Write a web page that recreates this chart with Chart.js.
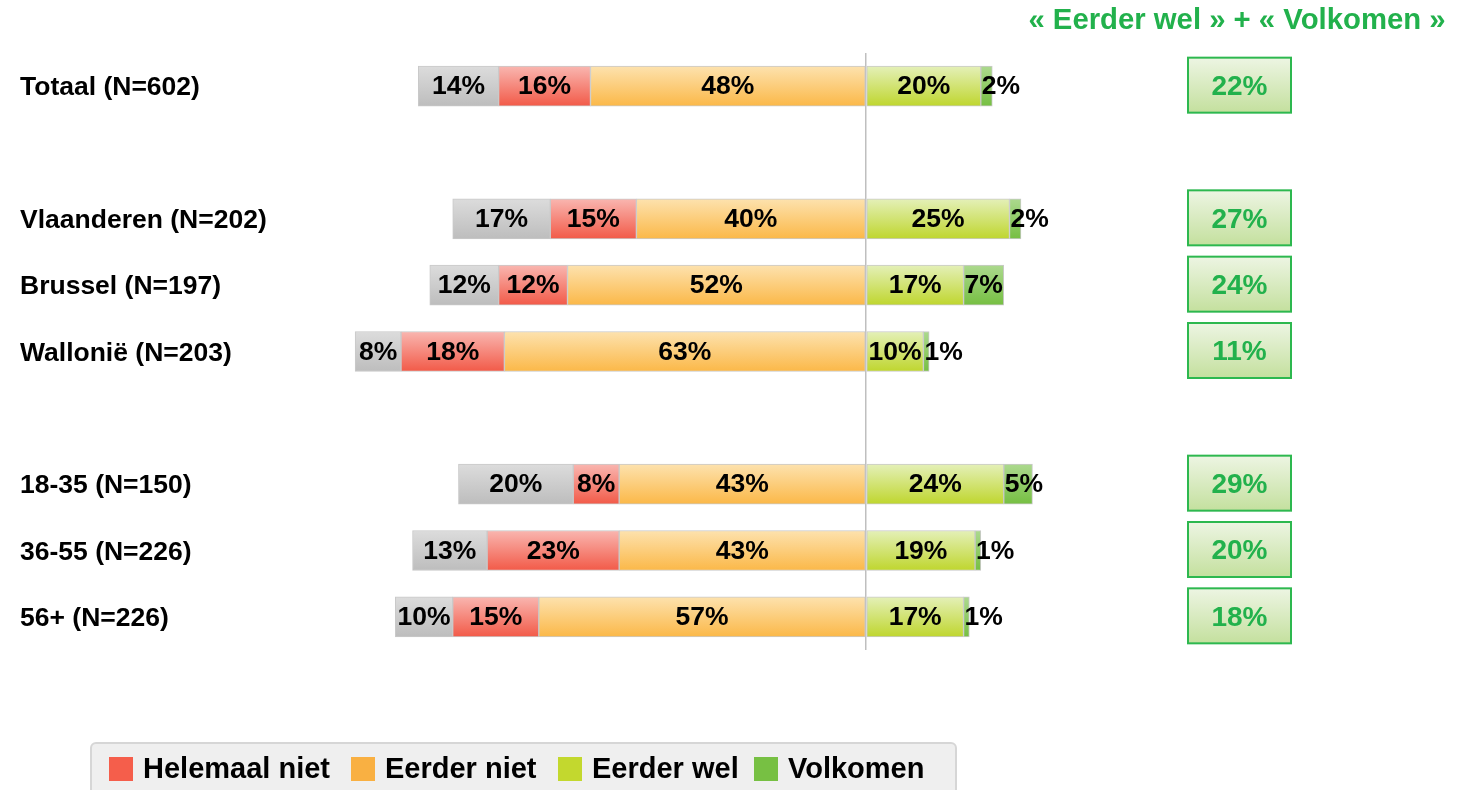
<!DOCTYPE html>
<html>
<head>
<meta charset="utf-8">
<script src="https://cdn.jsdelivr.net/npm/chart.js@4.4.0/dist/chart.umd.min.js"></script>
<style>
  html, body { margin: 0; padding: 0; background: #fff; overflow: hidden; }
  #wrap { position: relative; width: 1466px; height: 790px; }
</style>
</head>
<body>
<div id="wrap"><canvas id="chart"></canvas></div>
<script>
// categorieën (lege labels = witruimte tussen groepen)
const categories = ['Totaal (N=602)', '', 'Vlaanderen (N=202)', 'Brussel (N=197)', 'Wallonië (N=203)', '', '18-35 (N=150)', '36-55 (N=226)', '56+ (N=226)'];

// percentages per antwoord
const weetNiet     = [14, null, 17, 12, 8,  null, 20, 13, 10];
const helemaalNiet = [16, null, 15, 12, 18, null, 8,  23, 15];
const eerderNiet   = [48, null, 40, 52, 63, null, 43, 43, 57];
const eerderWel    = [20, null, 25, 17, 10, null, 24, 19, 17];
const volkomen     = [2,  null, 2,  7,  1,  null, 5,  1,  1];

// « Eerder wel » + « Volkomen »
const somWelVolkomen = [22, null, 27, 24, 11, null, 29, 20, 18];

const FONT = '"Liberation Sans", Arial, sans-serif';
const BAR = 40;
const GREEN_TXT = '#22b14c';

// verticale kleurverloop per balk
function grad(top, bottom) {
  return c => {
    const chart = c.chart;
    const y = chart.scales.y;
    if (!chart.chartArea || !y || c.dataIndex == null) return bottom;
    const py = y.getPixelForValue(c.dataIndex);
    const g = chart.ctx.createLinearGradient(0, py - BAR / 2, 0, py + BAR / 2);
    g.addColorStop(0, top);
    g.addColorStop(1, bottom);
    return g;
  };
}

const neg = arr => arr.map(v => (v == null ? null : -v));

function makeSet(label, values, sign, top, bottom, legendColor) {
  return {
    label: label,
    data: sign < 0 ? neg(values) : values,
    raw: values,
    backgroundColor: grad(top, bottom),
    legendColor: legendColor,
    borderColor: '#c9c9c9',
    borderWidth: 1,
    borderSkipped: false,
    barThickness: BAR,
  };
}

// negatieve kant: eerst het dichtst bij nul
const datasets = [
  makeSet('Eerder niet', eerderNiet, -1, '#fde2ae', '#fbb848', '#f9b042'),
  makeSet('Helemaal niet', helemaalNiet, -1, '#f9b6b0', '#f25a48', '#f55e4b'),
  makeSet('Weet niet', weetNiet, -1, '#dcdcdc', '#bdbdbd', null),
  makeSet('Eerder wel', eerderWel, 1, '#e4f0b8', '#bfd62e', '#c3d82e'),
  makeSet('Volkomen', volkomen, 1, '#acd98e', '#76bf42', '#77c043'),
];

const legendOrder = ['Helemaal niet', 'Eerder niet', 'Eerder wel', 'Volkomen'];
const legendX = [109, 351, 558, 754];

// percentages in de balken
const valueLabels = {
  id: 'valueLabels',
  afterDatasetsDraw(chart) {
    const ctx = chart.ctx;
    ctx.save();
    ctx.font = 'bold 26.5px ' + FONT;
    ctx.fillStyle = '#000';
    ctx.textBaseline = 'middle';
    chart.data.datasets.forEach((ds, i) => {
      const meta = chart.getDatasetMeta(i);
      meta.data.forEach((bar, j) => {
        const v = ds.raw[j];
        if (v == null) return;
        const left = Math.min(bar.x, bar.base);
        const right = Math.max(bar.x, bar.base);
        const txt = v + '%';
        if (ds.label === 'Volkomen') {
          ctx.textAlign = 'left';
          ctx.fillText(txt, left + 1, bar.y + 1);
        } else {
          ctx.textAlign = 'center';
          ctx.fillText(txt, (left + right) / 2, bar.y + 1);
        }
      });
    });
    ctx.restore();
  }
};

// groene kaders rechts + titel
const sumBoxes = {
  id: 'sumBoxes',
  afterDraw(chart) {
    const ctx = chart.ctx;
    const y = chart.scales.y;
    ctx.save();
    ctx.fillStyle = GREEN_TXT;
    ctx.font = 'bold 29.3px ' + FONT;
    ctx.textAlign = 'center';
    ctx.textBaseline = 'middle';
    ctx.fillText('« Eerder wel » + « Volkomen »', 1237, 21);

    const bx = 1188, bw = 103, bh = 55;
    somWelVolkomen.forEach((v, i) => {
      if (v == null) return;
      const cy = y.getPixelForValue(i) - 1;
      const top = cy - bh / 2;
      const g = ctx.createLinearGradient(0, top, 0, top + bh);
      g.addColorStop(0, '#edf5e3');
      g.addColorStop(1, '#c4e09e');
      ctx.fillStyle = g;
      ctx.fillRect(bx, top, bw, bh);
      ctx.strokeStyle = '#2db84f';
      ctx.lineWidth = 2;
      ctx.strokeRect(bx, top, bw, bh);
      ctx.fillStyle = GREEN_TXT;
      ctx.font = 'bold 28px ' + FONT;
      ctx.fillText(v + '%', bx + bw / 2, cy + 2);
    });
    ctx.restore();
  }
};

// legenda onderaan
const legendBox = {
  id: 'legendBox',
  afterDraw(chart) {
    const ctx = chart.ctx;
    ctx.save();
    ctx.fillStyle = '#efefef';
    ctx.strokeStyle = '#d6d6d6';
    ctx.lineWidth = 2;
    ctx.beginPath();
    ctx.roundRect(91, 743, 865, 70, 5);
    ctx.fill();
    ctx.stroke();

    ctx.font = 'bold 29px ' + FONT;
    ctx.textAlign = 'left';
    ctx.textBaseline = 'middle';
    legendOrder.forEach((name, k) => {
      const ds = chart.data.datasets.find(d => d.label === name);
      const x = legendX[k];
      ctx.fillStyle = ds.legendColor;
      ctx.fillRect(x, 757, 24, 24);
      ctx.fillStyle = '#000';
      ctx.fillText(name, x + 34, 770);
    });
    ctx.restore();
  }
};

new Chart(document.getElementById('chart'), {
  type: 'bar',
  data: { labels: categories, datasets: datasets },
  options: {
    indexAxis: 'y',
    responsive: true,
    maintainAspectRatio: false,
    animation: false,
    layout: { padding: { top: 53, left: 20, right: 26, bottom: 140 } },
    plugins: {
      legend: { display: false },
      tooltip: { enabled: false },
    },
    scales: {
      x: {
        stacked: true,
        min: -100,
        max: 100,
        ticks: { display: false, stepSize: 50 },
        border: { display: false },
        grid: {
          drawTicks: false,
          color: c => (c.tick && c.tick.value === 0 ? '#bfbfbf' : 'rgba(0,0,0,0)'),
          lineWidth: 1.5,
        },
        afterFit: s => { s.height = 0; },
      },
      y: {
        stacked: true,
        border: { display: false },
        grid: { display: false },
        ticks: {
          crossAlign: 'far',
          padding: 0,
          labelOffset: 2,
          color: '#000',
          font: { family: FONT, size: 26.5, weight: 'bold' },
        },
        afterFit: s => { s.width = 272; },
      },
    },
  },
  plugins: [valueLabels, sumBoxes, legendBox],
});
</script>
</body>
</html>
